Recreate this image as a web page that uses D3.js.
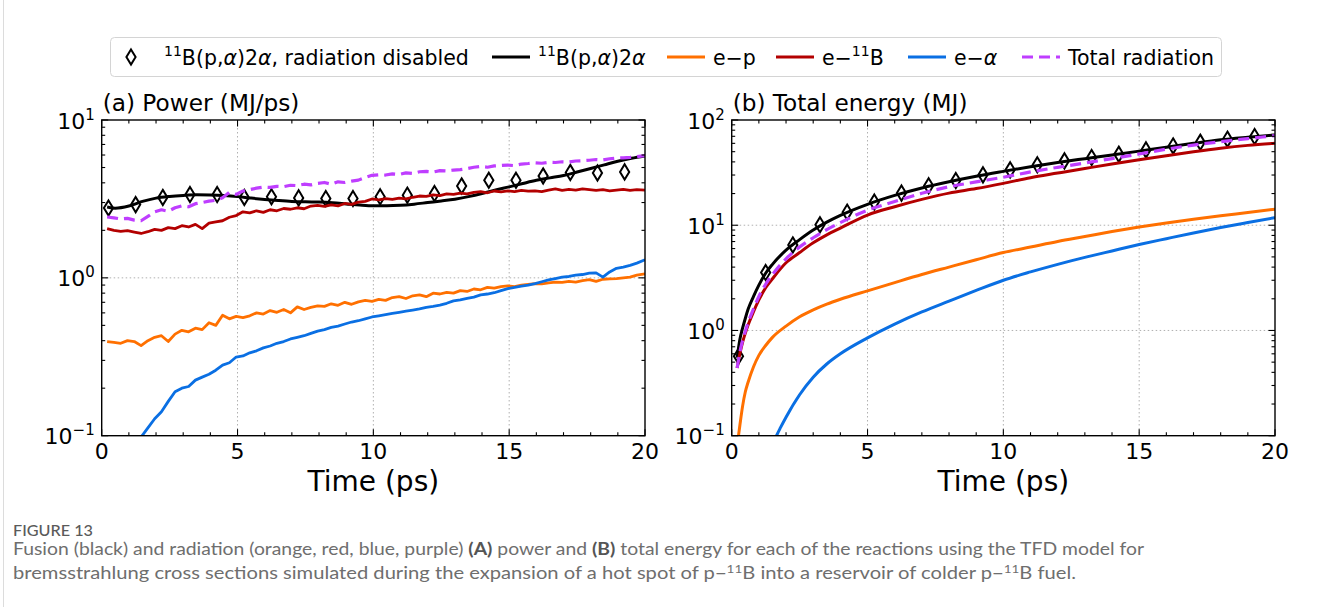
<!DOCTYPE html>
<html><head><meta charset="utf-8">
<script src="https://cdn.jsdelivr.net/npm/d3@7/dist/d3.min.js"></script>
<style>body{margin:0;background:#fff;} svg{display:block;font-family:"DejaVu Sans";}</style>
</head><body><svg id="c" width="1326" height="607"></svg>
<script>
// ---------- DATA ----------
// Panel (a) sampling times (ps) for the noisy radiation power traces
const timesA = [0.2,0.45,0.7,0.95,1.2,1.45,1.7,1.95,2.2,2.45,2.7,2.95,3.2,3.45,3.7,3.95,4.2,4.45,4.7,4.95,
5.2,5.45,5.7,5.95,6.2,6.45,6.7,6.95,7.2,7.45,7.7,7.95,8.2,8.45,8.7,8.95,9.2,9.45,9.7,9.95,
10.2,10.45,10.7,10.95,11.2,11.45,11.7,11.95,12.2,12.45,12.7,12.95,13.2,13.45,13.7,13.95,14.2,14.45,14.7,14.95,
15.2,15.45,15.7,15.95,16.2,16.45,16.7,16.95,17.2,17.45,17.7,17.95,18.2,18.45,18.7,18.95,19.2,19.45,19.7,20.0];
const totalRadPower = [2.43,2.40,2.36,2.38,2.32,2.30,2.45,2.62,2.70,2.64,2.78,2.86,2.82,2.95,3.00,3.06,3.10,3.22,3.48,3.38,
3.55,3.62,3.70,3.76,3.74,3.80,3.78,3.86,3.84,3.92,3.88,3.97,4.02,3.92,4.06,4.02,4.10,4.16,4.32,4.46,
4.50,4.48,4.56,4.52,4.62,4.58,4.70,4.72,4.68,4.78,4.75,4.82,4.85,4.92,5.02,5.08,5.02,5.12,5.15,5.18,
5.14,5.26,5.30,5.36,5.32,5.40,5.38,5.44,5.42,5.50,5.52,5.56,5.62,5.58,5.68,5.74,5.76,5.80,5.86,5.95];
const eBPower = [2.05,2.00,1.97,1.99,1.95,1.91,1.96,2.03,2.00,2.08,2.05,2.14,2.10,2.18,2.05,2.22,2.26,2.30,2.42,2.48,
2.62,2.58,2.66,2.60,2.70,2.66,2.75,2.72,2.78,2.74,2.85,2.88,2.84,2.90,2.86,2.96,2.92,3.02,3.05,3.16,
3.12,3.18,3.14,3.20,3.16,3.24,3.30,3.28,3.36,3.32,3.40,3.38,3.44,3.40,3.48,3.52,3.46,3.55,3.50,3.56,
3.52,3.58,3.54,3.56,3.52,3.60,3.66,3.58,3.64,3.60,3.66,3.62,3.58,3.62,3.56,3.60,3.64,3.58,3.62,3.60];
const epPower = [0.394,0.39,0.385,0.40,0.395,0.372,0.40,0.42,0.43,0.395,0.44,0.465,0.455,0.48,0.47,0.52,0.50,0.58,0.55,0.57,
0.56,0.575,0.60,0.59,0.62,0.605,0.63,0.60,0.655,0.63,0.65,0.665,0.66,0.685,0.67,0.70,0.68,0.705,0.72,0.71,
0.73,0.72,0.75,0.76,0.74,0.77,0.78,0.76,0.80,0.79,0.81,0.80,0.83,0.82,0.85,0.84,0.87,0.86,0.88,0.89,
0.88,0.90,0.91,0.92,0.915,0.93,0.94,0.935,0.95,0.94,0.96,0.975,0.95,0.98,0.985,0.99,1.00,1.01,1.04,1.06];
const eAlphaPower = [null,null,null,null,0.088,0.098,0.112,0.128,0.142,0.165,0.19,0.20,0.205,0.225,0.235,0.245,0.26,0.28,0.29,0.315,
0.32,0.335,0.345,0.36,0.37,0.385,0.395,0.41,0.42,0.43,0.445,0.46,0.47,0.485,0.495,0.51,0.525,0.535,0.55,0.565,
0.575,0.585,0.595,0.605,0.615,0.625,0.635,0.65,0.66,0.672,0.69,0.715,0.725,0.74,0.755,0.78,0.79,0.805,0.83,0.855,
0.87,0.885,0.90,0.92,0.945,0.97,0.99,1.01,1.02,1.04,1.05,1.07,1.075,1.01,1.09,1.15,1.17,1.20,1.24,1.30];
// Panel (a) fusion power (smooth)
const fusionTimesA = [0.2,0.5,1,1.5,2,2.5,3,3.5,4,4.5,5,5.5,6,6.5,7,7.5,8,8.5,9,9.5,10,10.5,11,11.5,12,12.5,13,13.5,14,14.5,15,15.5,16,16.5,17,17.5,18,18.5,19,19.5,20];
const fusionPower = [2.81,2.76,2.85,3.05,3.20,3.28,3.33,3.36,3.35,3.32,3.27,3.20,3.14,3.09,3.05,3.03,3.02,2.99,2.94,2.89,2.86,2.86,2.88,2.93,3.00,3.07,3.15,3.27,3.42,3.60,3.77,3.96,4.15,4.30,4.45,4.68,4.93,5.20,5.48,5.72,5.92];
// Radiation-disabled run (diamonds)
const noRadTimes = [0.25,1.25,2.25,3.25,4.25,5.25,6.25,7.25,8.25,9.25,10.25,11.25,12.25,13.25,14.25,15.25,16.25,17.25,18.25,19.25];
const noRadPower = [2.77,2.91,3.23,3.37,3.37,3.23,3.26,3.21,3.18,3.18,3.26,3.34,3.42,3.82,4.15,4.15,4.42,4.65,4.62,4.69];
const noRadEnergy = [0.57,3.55,6.5,10.1,13.3,16.6,20.2,23.7,26.6,30.1,33.6,37.5,40.9,44.0,47.3,52.0,56.7,61.5,65.7,69.6];
// Panel (b) cumulative energies
const timesB = [0.2,0.3,0.4,0.5,0.6,0.8,1.0,1.25,1.5,2,2.5,3,3.5,4,5,6,7,8,9,10,11,12,13,14,15,16,17,18,19,20];
const fusionEnergy = [0.55,0.82,1.05,1.3,1.58,2.1,2.7,3.5,4.25,5.8,7.3,9.0,10.7,12.4,15.8,19.2,22.6,25.9,29.2,32.5,36.0,39.5,42.9,46.5,50.6,55.2,60.0,64.8,68.6,72.2];
const totalRadEnergy = [0.44,0.62,0.80,0.98,1.18,1.6,2.1,2.75,3.4,4.8,6.2,7.6,9.1,10.6,13.9,16.8,20.1,23.2,25.8,28.6,32.1,35.5,39.0,43.0,47.5,52.8,57.8,62.2,66.5,71.1];
const eBEnergy = [0.44,0.60,0.77,0.94,1.12,1.5,1.95,2.55,3.1,4.4,5.5,6.8,8.1,9.4,12.5,15.0,17.6,20.2,22.3,25.0,28.3,31.3,34.6,38.2,41.9,45.8,49.9,53.9,57.4,60.2];
const epEnergy = [0.08,0.125,0.19,0.26,0.32,0.45,0.58,0.72,0.86,1.1,1.35,1.57,1.78,1.98,2.38,2.85,3.4,4.0,4.7,5.5,6.2,7.0,7.8,8.7,9.6,10.5,11.4,12.3,13.2,14.2];
const eAlphaTimesB = [1.5,1.65,1.8,2,2.5,3,3.5,4,5,6,7,8,9,10,11,12,13,14,15,16,17,18,19,20];
const eAlphaEnergy = [0.08,0.1,0.12,0.15,0.245,0.36,0.48,0.6,0.85,1.15,1.5,1.9,2.4,3.0,3.6,4.25,4.95,5.7,6.55,7.45,8.45,9.5,10.6,11.8];
// Ticks
const xMajorTicks = [0,5,10,15,20];
const legendLabels = ["¹¹B(p,α)2α, radiation disabled","¹¹B(p,α)2α","e−p","e−¹¹B","e−α","Total radiation"];

// ---------- DRAWING ----------
const C = {black:"#000000", orange:"#ff7000", red:"#b30000", blue:"#0a6fe3", purple:"#bf3eff"};
const svg = d3.select("#c");
const yTop = 120, yBot = 435.7;

function pairs(ts, vs){ return ts.map((t,i)=>[t, vs[i]]); }

const panels = [
  {id:"a", x0:101.7, x1:645, dom:[0.1,10], title:"(a) Power (MJ/ps)",
   series:[
     {kind:"dia", data:pairs(noRadTimes,noRadPower)},
     {kind:"line", color:C.black, w:3, data:pairs(fusionTimesA,fusionPower), curve:d3.curveMonotoneX},
     {kind:"line", color:C.orange, w:2.8, data:pairs(timesA,epPower)},
     {kind:"line", color:C.red, w:2.8, data:pairs(timesA,eBPower)},
     {kind:"line", color:C.blue, w:2.8, data:pairs(timesA,eAlphaPower)},
     {kind:"line", color:C.purple, w:3.2, dash:"11,6", data:pairs(timesA,totalRadPower)}
   ]},
  {id:"b", x0:731.7, x1:1275, dom:[0.1,100], title:"(b) Total energy (MJ)",
   series:[
     {kind:"dia", data:pairs(noRadTimes,noRadEnergy)},
     {kind:"line", color:C.black, w:3, data:pairs(timesB,fusionEnergy), curve:d3.curveMonotoneX},
     {kind:"line", color:C.orange, w:3, data:pairs(timesB,epEnergy), curve:d3.curveMonotoneX},
     {kind:"line", color:C.red, w:3, data:pairs(timesB,eBEnergy), curve:d3.curveMonotoneX},
     {kind:"line", color:C.blue, w:3, data:pairs(eAlphaTimesB,eAlphaEnergy), curve:d3.curveMonotoneX},
     {kind:"line", color:C.purple, w:3.2, dash:"11,6", data:pairs(timesB,totalRadEnergy), curve:d3.curveMonotoneX}
   ]}
];

function diamondPath(cx, cy){ const hw=4.6, hh=7.6; return `M${cx},${cy-hh}L${cx+hw},${cy}L${cx},${cy+hh}L${cx-hw},${cy}Z`; }
function powLabel(g, x, y, exp, anchor){
  const t = g.append("text").attr("x",x).attr("y",y).attr("text-anchor",anchor).attr("font-size",22).attr("fill","#000");
  t.append("tspan").text("10");
  t.append("tspan").attr("font-size",15).attr("dy",-9).text(exp<0 ? "\u2212"+(-exp) : String(exp));
}

panels.forEach(p=>{
  const x = d3.scaleLinear().domain([0,20]).range([p.x0,p.x1]);
  const y = d3.scaleLog().domain(p.dom).range([yBot,yTop]);
  const g = svg.append("g");
  const clipId = "clip"+p.id;
  svg.append("clipPath").attr("id",clipId).append("rect")
    .attr("x",p.x0).attr("y",yTop).attr("width",p.x1-p.x0).attr("height",yBot-yTop);

  // grid
  const grid = g.append("g").attr("stroke","#b0b0b0").attr("stroke-width",1).attr("stroke-dasharray","1.5,2.5");
  xMajorTicks.slice(1,-1).forEach(t=>grid.append("line").attr("x1",x(t)).attr("x2",x(t)).attr("y1",yTop).attr("y2",yBot));
  const lo = Math.round(Math.log10(p.dom[0])), hi = Math.round(Math.log10(p.dom[1]));
  for(let e=lo+1;e<hi;e++) grid.append("line").attr("x1",p.x0).attr("x2",p.x1).attr("y1",y(10**e)).attr("y2",y(10**e));

  // series
  const plot = g.append("g").attr("clip-path",`url(#${clipId})`);
  p.series.forEach(s=>{
    if(s.kind==="dia"){
      plot.append("g").selectAll("path").data(s.data).join("path")
        .attr("d",d=>diamondPath(x(d[0]),y(d[1]))).attr("fill","none").attr("stroke","#000").attr("stroke-width",2);
    } else {
      const line = d3.line().defined(d=>d[1]!=null).x(d=>x(d[0])).y(d=>y(d[1]));
      if(s.curve) line.curve(s.curve);
      plot.append("path").datum(s.data).attr("d",line).attr("fill","none")
        .attr("stroke",s.color).attr("stroke-width",s.w).attr("stroke-linejoin","round")
        .attr("stroke-dasharray",s.dash||null);
    }
  });

  // spines
  g.append("rect").attr("x",p.x0).attr("y",yTop).attr("width",p.x1-p.x0).attr("height",yBot-yTop)
    .attr("fill","none").attr("stroke","#000").attr("stroke-width",1.4);

  // ticks (inward, all four sides)
  const tk = g.append("g").attr("stroke","#000").attr("stroke-width",1.1);
  for(let t=0;t<=20;t++){
    const len = (t%5===0)?6.5:3.5, xx=x(t);
    tk.append("line").attr("x1",xx).attr("x2",xx).attr("y1",yBot).attr("y2",yBot-len);
    tk.append("line").attr("x1",xx).attr("x2",xx).attr("y1",yTop).attr("y2",yTop+len);
  }
  for(let e=lo;e<=hi;e++){
    for(let m=1;m<=9;m++){
      if(e===hi && m>1) break;
      const v = m*10**e, yy=y(v), len = m===1?6.5:3.5;
      tk.append("line").attr("x1",p.x0).attr("x2",p.x0+len).attr("y1",yy).attr("y2",yy);
      tk.append("line").attr("x1",p.x1).attr("x2",p.x1-len).attr("y1",yy).attr("y2",yy);
    }
  }
  // tick labels
  xMajorTicks.forEach(t=>g.append("text").attr("x",x(t)).attr("y",459).attr("text-anchor","middle")
    .attr("font-size",22).text(t));
  for(let e=lo;e<=hi;e++) powLabel(g, p.x0-7, y(10**e)+8.5, e, "end");

  g.append("text").attr("x",(p.x0+p.x1)/2).attr("y",491).attr("text-anchor","middle").attr("font-size",28).text("Time (ps)");
  g.append("text").attr("x",p.x0+1).attr("y",111).attr("font-size",23.2).text(p.title);
});

// ---------- LEGEND ----------
const lg = svg.append("g");
lg.append("rect").attr("x",110.5).attr("y",37.5).attr("width",1111).attr("height",39).attr("rx",4)
  .attr("fill","#fff").attr("stroke","#d4d4d4").attr("stroke-width",1);
const ly = 57, lfs = 20.5;
function richLabel(x, parts){
  const t = lg.append("text").attr("x",x).attr("y",ly+7.5).attr("font-size",lfs);
  parts.forEach(pt=>{
    const ts = t.append("tspan").text(pt.t);
    if(pt.sup){ ts.attr("font-size",14).attr("dy",-8.5); }
    if(pt.after){ ts.attr("dy",8.5); }
    if(pt.it) ts.attr("font-style","italic");
  });
}
// diamond marker item
lg.append("path").attr("d",diamondPath(131,ly)).attr("fill","none").attr("stroke","#000").attr("stroke-width",2);
richLabel(164,[{t:"11",sup:true},{t:"B(p,",after:true},{t:"α",it:true},{t:")2"},{t:"α",it:true},{t:", radiation disabled"}]);
const items = [
  {x:492, color:C.black, parts:[{t:"11",sup:true},{t:"B(p,",after:true},{t:"α",it:true},{t:")2"},{t:"α",it:true}]},
  {x:667, color:C.orange, parts:[{t:"e\u2212p"}]},
  {x:776, color:C.red, parts:[{t:"e\u2212"},{t:"11",sup:true},{t:"B",after:true}]},
  {x:908, color:C.blue, parts:[{t:"e\u2212"},{t:"α",it:true}]},
  {x:1022, color:C.purple, dash:"11,6", parts:[{t:"Total radiation"}]}
];
items.forEach((it,i)=>{
  lg.append("line").attr("x1",it.x).attr("x2",it.x+38).attr("y1",ly).attr("y2",ly)
    .attr("stroke",it.color).attr("stroke-width",3.2).attr("stroke-dasharray",it.dash||null);
  richLabel(it.x+46, it.parts);
});

// ---------- CAPTION ----------
const cap = svg.append("g").attr("font-family","Lato, 'Open Sans', sans-serif");
svg.append("line").attr("x1",3.5).attr("x2",3.5).attr("y1",0).attr("y2",607).attr("stroke","#dcdcdc");
cap.append("text").attr("x",13).attr("y",535.5).attr("font-size",14.5).attr("fill","#5a5a5a").attr("font-weight",500)
  .attr("textLength",80).attr("lengthAdjust","spacingAndGlyphs").text("FIGURE 13");
const c1 = cap.append("text").attr("x",13).attr("y",555).attr("font-size",16.5).attr("fill","#6e6e6e")
  .attr("textLength",1131).attr("lengthAdjust","spacingAndGlyphs");
c1.append("tspan").text("Fusion (black) and radiation (orange, red, blue, purple) ");
c1.append("tspan").attr("font-weight",700).attr("fill","#555").text("(A)");
c1.append("tspan").text(" power and ");
c1.append("tspan").attr("font-weight",700).attr("fill","#555").text("(B)");
c1.append("tspan").text(" total energy for each of the reactions using the TFD model for");
const c2 = cap.append("text").attr("x",13).attr("y",579).attr("font-size",16.5).attr("fill","#6e6e6e")
  .attr("textLength",1063).attr("lengthAdjust","spacingAndGlyphs");
c2.append("tspan").text("bremsstrahlung cross sections simulated during the expansion of a hot spot of p\u2212");
c2.append("tspan").attr("font-size",11).attr("dy",-6).text("11");
c2.append("tspan").attr("dy",6).text("B into a reservoir of colder p\u2212");
c2.append("tspan").attr("font-size",11).attr("dy",-6).text("11");
c2.append("tspan").attr("dy",6).text("B fuel.");
</script></body></html>
